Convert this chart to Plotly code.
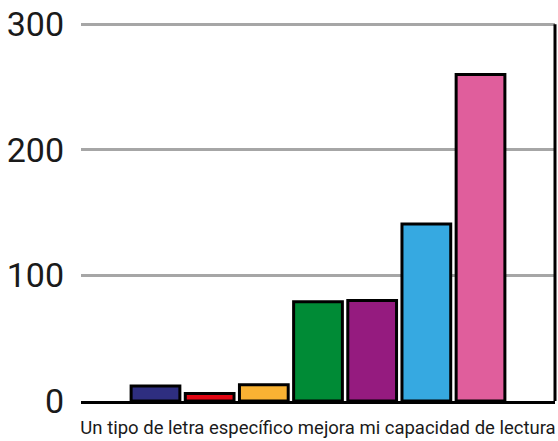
import plotly.graph_objects as go

category = ["Un tipo de letra específico mejora mi capacidad de lectura"]
series_names = ["S1", "S2", "S3", "S4", "S5", "S6", "S7"]
values = [12, 6, 13, 79, 80, 141, 260]
colors = ["#2e2e80", "#e30613", "#f9b233", "#008b36", "#951b7f", "#36a9e1", "#e05e9c"]
y_ticks = [0, 100, 200, 300]

fig = go.Figure()
for name, v, c in zip(series_names, values, colors):
    fig.add_trace(go.Bar(x=category, y=[v], name=name,
                         marker=dict(color=c, line=dict(color="black", width=3))))

fig.update_layout(
    width=558, height=441,
    margin=dict(l=81, r=3, t=23, b=40),
    paper_bgcolor="white", plot_bgcolor="white",
    barmode="group", bargap=0.2, bargroupgap=0.1,
    showlegend=False,
    font=dict(family="Roboto", color="#1a1a1a"),
    xaxis=dict(showline=True, linecolor="black", linewidth=3, ticks="",
               tickfont=dict(size=18.5), showgrid=False, automargin=False,
               ticklabelstandoff=8),
    yaxis=dict(range=[0, 301], tickvals=y_ticks, showgrid=True, gridcolor="#a6a6a6",
               gridwidth=3, zeroline=False, showline=False, ticks="",
               tickfont=dict(size=34), ticklabelstandoff=16, automargin=False),
    shapes=[dict(type="line", xref="paper", yref="y", x0=1, x1=1, y0=0, y1=300,
                 line=dict(color="black", width=3))],
)

fig.write_html("out.html", config={"displayModeBar": False},
               post_script="document.body.style.margin='0px';")
